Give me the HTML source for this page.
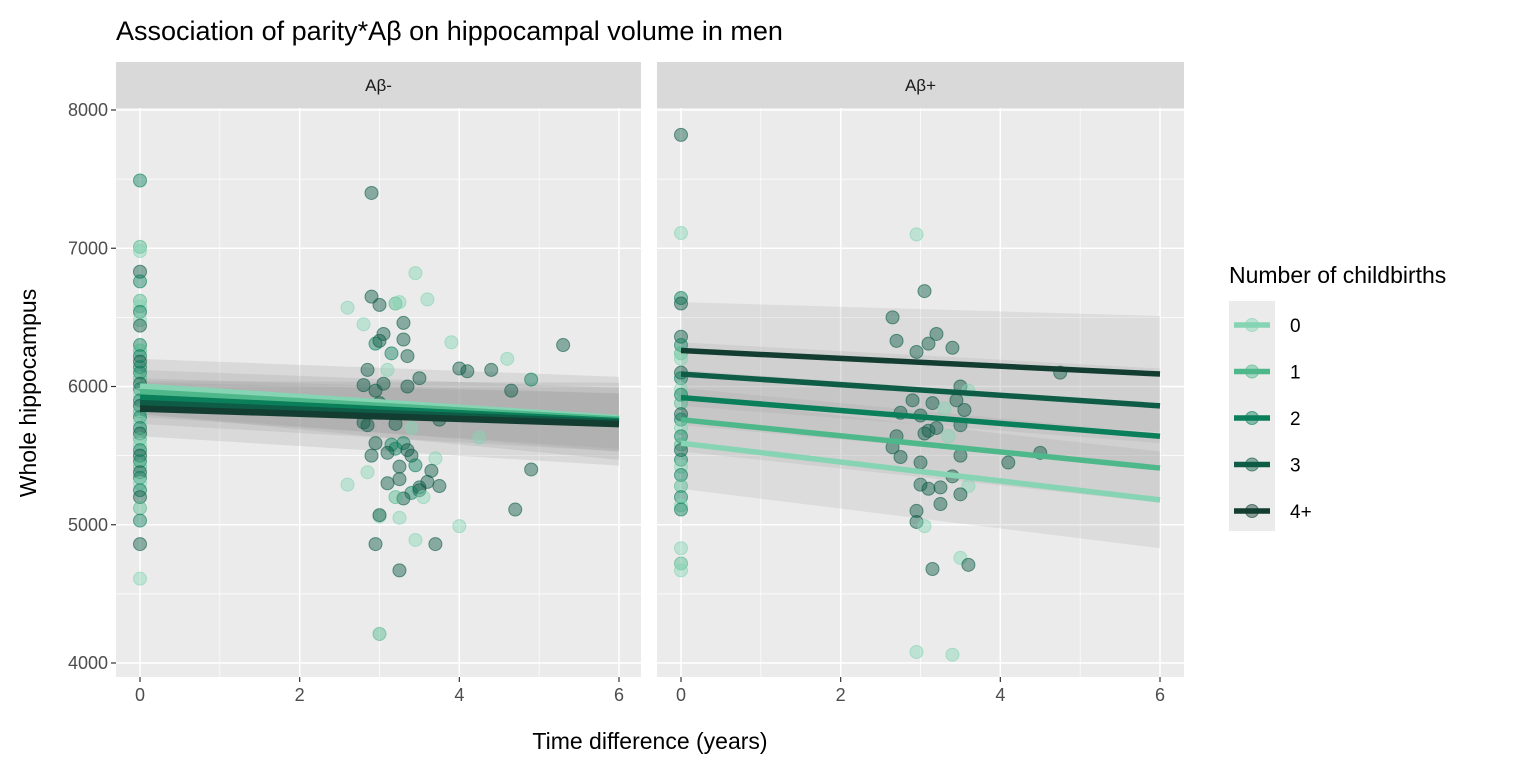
<!DOCTYPE html>
<html><head><meta charset="utf-8"><style>
body{margin:0;background:#fff;font-family:"Liberation Sans",Arial,sans-serif}
svg text{font-family:"Liberation Sans",Arial,sans-serif}
</style></head><body>
<svg id="c" width="1536" height="768" xmlns="http://www.w3.org/2000/svg">
<text x="116" y="40" font-size="27" fill="#000">Association of parity*Aβ on hippocampal volume in men</text>
<text x="650" y="749" font-size="23" text-anchor="middle" fill="#000">Time difference (years)</text>
<text transform="translate(36,393) rotate(-90)" font-size="23" text-anchor="middle" fill="#000">Whole hippocampus</text>
<g id="legend">
<text x="1229" y="283" font-size="23" fill="#000">Number of childbirths</text>
<rect x="1229" y="301" width="46" height="230" fill="#ebebeb"/>
</g>
<g id="plot"></g>
</svg>
<script>
const groups=["0","1","2","3","4+"];
const colors=["#86d4b3","#4fb88b","#0a7f5a","#0e5c45","#133d30"];
const panels=["Aβ-","Aβ+"];
const yTicks=[4000,5000,6000,7000,8000];
const xTicks=[0,2,4,6];
const fitLeftStart=[6000,5960,5920,5880,5840];
const fitLeftEnd=[5770,5760,5750,5740,5728];
const fitRightStart=[5590,5760,5920,6090,6260];
const fitRightEnd=[5180,5410,5640,5860,6090];
const ribLeftHalf0=[200,160,140,150,200];
const ribLeftHalf6=[300,230,200,210,300];
const ribRightHalf0=[330,230,200,230,350];
const ribRightHalf6=[350,250,230,270,420];
const ptsLeft=[[0,7490,2],[0,7010,1],[0,6980,0],[0,6830,3],[0,6760,2],[0,6620,1],[0,6580,0],[0,6540,2],[0,6480,0],[0,6440,3],[0,6300,2],[0,6260,1],[0,6220,2],[0,6180,3],[0,6140,2],[0,6100,2],[0,6060,1],[0,6020,3],[0,5980,2],[0,5940,0],[0,5900,2],[0,5860,3],[0,5820,1],[0,5780,2],[0,5740,0],[0,5700,2],[0,5660,3],[0,5620,1],[0,5580,0],[0,5540,2],[0,5500,3],[0,5460,2],[0,5420,1],[0,5380,3],[0,5340,2],[0,5300,0],[0,5250,2],[0,5200,3],[0,5120,1],[0,5030,2],[0,4860,3],[0,4610,0],
[2.6,6570,0],[2.8,6450,0],[2.9,6650,3],[2.9,7400,3],[3.0,6590,3],[3.2,6600,1],[3.25,6610,0],[3.6,6630,0],[3.45,6820,0],[2.95,6310,2],[3.05,6380,3],[3.0,6330,3],[3.3,6460,3],[3.15,6240,2],[3.3,6340,3],[3.35,6000,3],[3.35,6220,3],[3.9,6320,0],[4.0,6130,3],[4.4,6120,3],[4.6,6200,0],[5.3,6300,3],[3.1,6120,0],[2.85,6120,3],[2.8,6010,3],[2.95,5970,3],[3.05,6020,3],[3.0,5880,3],[3.5,6060,3],[4.1,6110,3],[4.65,5970,3],[4.9,6050,2],[2.8,5740,3],[2.85,5720,3],[3.2,5730,3],[3.4,5700,0],[3.75,5760,3],[4.25,5630,0],[2.95,5590,3],[3.3,5590,2],[3.15,5580,2],[3.2,5550,2],[3.1,5520,3],[3.35,5540,3],[3.4,5500,3],[2.9,5500,3],[3.7,5480,0],[3.45,5430,2],[3.25,5420,3],[2.85,5380,0],[3.65,5390,3],[3.6,5310,3],[3.5,5270,3],[2.6,5290,0],[3.1,5300,3],[3.25,5330,3],[3.5,5250,3],[3.75,5280,3],[3.4,5230,2],[3.3,5190,3],[3.55,5200,0],[3.2,5200,1],[3.0,5060,0],[3.25,5050,0],[3.0,5070,3],[4.0,4990,0],[4.7,5110,3],[4.9,5400,3],[3.45,4890,0],[3.7,4860,3],[2.95,4860,3],[3.25,4670,3],[3.0,4210,1]];
const ptsRight=[[0,7820,3],[0,7110,0],[0,6640,2],[0,6600,3],[0,6360,3],[0,6300,2],[0,6240,1],[0,6200,0],[0,6100,3],[0,6060,2],[0,5980,0],[0,5940,2],[0,5880,1],[0,5800,3],[0,5760,2],[0,5700,0],[0,5640,2],[0,5580,1],[0,5540,3],[0,5470,2],[0,5420,0],[0,5360,2],[0,5280,1],[0,5200,2],[0,5140,0],[0,5110,2],[0,4830,0],[0,4720,1],[0,4670,0],
[2.95,7100,0],[3.05,6690,3],[2.65,6500,3],[3.2,6380,3],[3.1,6310,3],[3.4,6280,3],[2.95,6250,3],[2.7,6330,3],[3.5,6000,3],[3.6,5970,0],[3.45,5900,3],[2.9,5900,3],[3.15,5880,3],[3.3,5840,0],[3.55,5830,3],[2.75,5810,3],[3.0,5790,3],[3.2,5700,3],[3.05,5660,3],[3.5,5720,3],[3.1,5680,3],[2.7,5640,3],[2.65,5560,3],[2.75,5490,3],[3.0,5450,3],[3.5,5500,3],[4.1,5450,3],[4.5,5520,3],[4.75,6100,3],[3.35,5640,0],[3.4,5350,3],[3.0,5290,3],[3.1,5260,3],[3.25,5270,3],[3.6,5280,0],[3.5,5220,3],[3.25,5150,3],[2.95,5100,3],[2.95,5020,3],[3.05,4990,0],[3.5,4760,0],[3.6,4710,3],[3.15,4680,3],[2.95,4080,0],[3.4,4060,0]];

const plot=document.getElementById('plot');
const NS="http://www.w3.org/2000/svg";
function mk(tag,attrs,parent){const e=document.createElementNS(NS,tag);for(const k in attrs)e.setAttribute(k,attrs[k]);(parent||plot).appendChild(e);return e;}
const PT=108,PB=677;
const panelX=[[116,641],[657,1184]];
function yS(v){return 110+(8000-v)*(553/4000);}
function xS(p,v){const x0=panelX[p][0]+24;return x0+v*(479/6);}
panels.forEach((name,p)=>{
  const [L,R]=panelX[p];
  const g=mk('g',{});
  
  
  const bg=mk('rect',{x:L,y:PT,width:R-L,height:PB-PT,fill:'#ebebeb'},g);
  
  
  const strip=mk('rect',{x:L,y:62,width:R-L,height:46,fill:'#d9d9d9'},g);
  
  
  const st=mk('text',{x:(L+R)/2,y:91,'font-size':17,'text-anchor':'middle',fill:'#1a1a1a'},g);
  st.textContent=name;
  
  
  for(let v=4500;v<8000;v+=1000){const l=mk('line',{x1:L,x2:R,y1:yS(v),y2:yS(v),stroke:'#fff','stroke-width':0.7},g);}
  [1,3,5].forEach(v=>{const l=mk('line',{x1:xS(p,v),x2:xS(p,v),y1:PT,y2:PB,stroke:'#fff','stroke-width':0.7},g);});
  yTicks.forEach(v=>{const l=mk('line',{x1:L,x2:R,y1:yS(v),y2:yS(v),stroke:'#fff','stroke-width':1.5},g);});
  xTicks.forEach(v=>{const l=mk('line',{x1:xS(p,v),x2:xS(p,v),y1:PT,y2:PB,stroke:'#fff','stroke-width':1.5},g);
    const tk=mk('line',{x1:xS(p,v),x2:xS(p,v),y1:PB,y2:PB+5,stroke:'#333','stroke-width':1.2},g);
    const t=mk('text',{x:xS(p,v),y:PB+24,'font-size':18,'text-anchor':'middle',fill:'#4d4d4d'},g);t.textContent=v;});
  if(p===0){yTicks.forEach(v=>{const tk=mk('line',{x1:L-5,x2:L,y1:yS(v),y2:yS(v),stroke:'#333','stroke-width':1.2},g);
    const t=mk('text',{x:L-8,y:yS(v)+6,'font-size':18,'text-anchor':'end',fill:'#4d4d4d'},g);t.textContent=v;});}
  const s0=p?fitRightStart:fitLeftStart, s6=p?fitRightEnd:fitLeftEnd;
  const h0=p?ribRightHalf0:ribLeftHalf0, h6=p?ribRightHalf6:ribLeftHalf6;
  groups.forEach((gr,i)=>{
    const rb=mk('polygon',{points:`${xS(p,0)},${yS(s0[i]+h0[i])} ${xS(p,6)},${yS(s6[i]+h6[i])} ${xS(p,6)},${yS(s6[i]-h6[i])} ${xS(p,0)},${yS(s0[i]-h0[i])}`,fill:'#999','fill-opacity':p?0.18:0.22},g);
    
    
  });
  const pts=p?ptsRight:ptsLeft;
  pts.forEach(d=>{
    const c=mk('circle',{cx:xS(p,d[0]),cy:yS(d[1]),r:6.5,fill:colors[d[2]],'fill-opacity':0.45,stroke:colors[d[2]],'stroke-opacity':0.6,'stroke-width':1},g);
    
    
  });
  groups.forEach((gr,i)=>{
    const l=mk('line',{x1:xS(p,0),y1:yS(s0[i]),x2:xS(p,6),y2:yS(s6[i]),stroke:colors[i],'stroke-width':p?5.5:6.5},g);
    
    
  });
});
const lg=document.getElementById('legend');
groups.forEach((gr,i)=>{
  const y=325+i*46.5;
  const l=mk('line',{x1:1234,x2:1270,y1:y,y2:y,stroke:colors[i],'stroke-width':5.5},lg);
  
  
  const c=mk('circle',{cx:1252,cy:y,r:6.5,fill:colors[i],'fill-opacity':0.45,stroke:colors[i],'stroke-opacity':0.6},lg);
  
  
  const t=mk('text',{x:1290,y:y+7,'font-size':19,fill:'#000'},lg);
  t.textContent=gr;
  
  
});
</script>
</body></html>
